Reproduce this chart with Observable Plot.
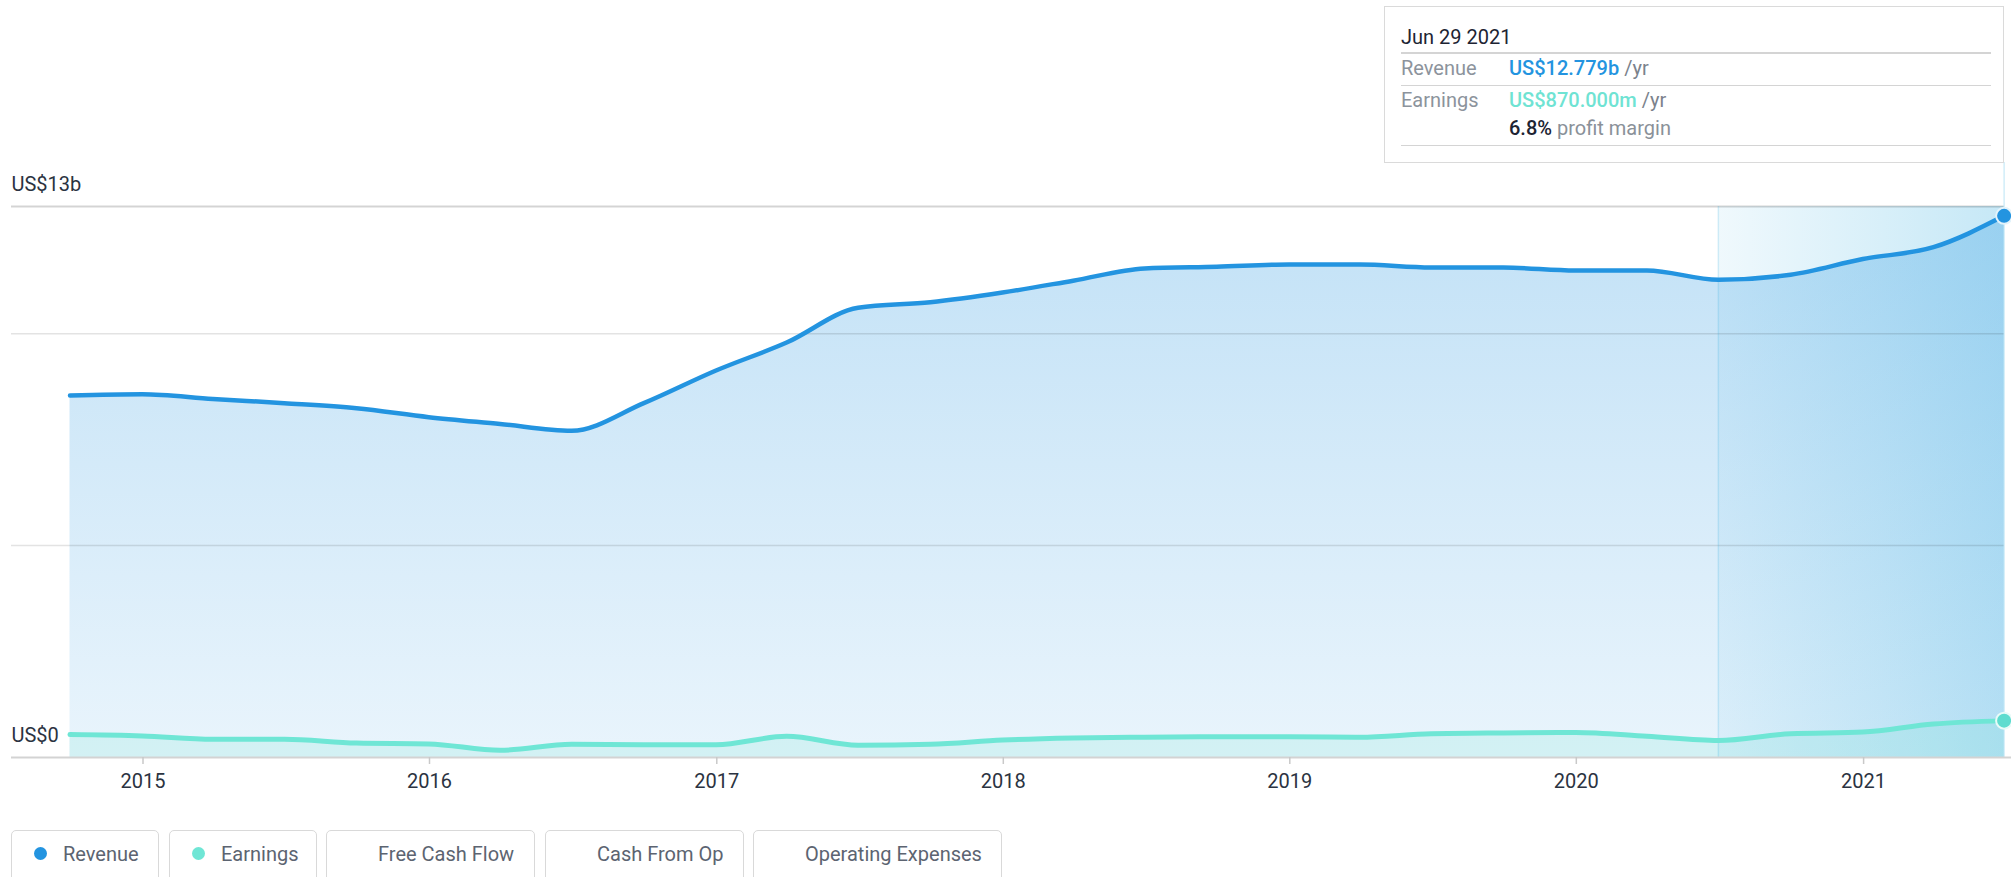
<!DOCTYPE html>
<html>
<head>
<meta charset="utf-8">
<script src="https://cdn.jsdelivr.net/npm/d3@7"></script>
<script src="https://cdn.jsdelivr.net/npm/@observablehq/plot@0.6"></script>
<style>
  html, body { margin: 0; padding: 0; background: #fff; }
  body { width: 2011px; height: 877px; position: relative; overflow: hidden; font-family: Roboto, "Noto Sans", sans-serif; }
  #chart { position: absolute; left: 0; top: 0; }
  #tip { position: absolute; left: 1384px; top: 6px; width: 620px; height: 157px; border: 1.5px solid #dadada; box-sizing: border-box; background: #fff; }
  .t { position: absolute; font-size: 20px; line-height: 20px; white-space: nowrap; }
  .sep { position: absolute; left: 1401px; width: 590px; height: 1.5px; background: #d4d4d4; }
  .btn { position: absolute; top: 830px; height: 70px; border: 1.5px solid #d9d9d9; border-radius: 5px; box-sizing: border-box; background: #fff; }
  .btn .dot { position: absolute; left: 22px; top: 16px; width: 13px; height: 13px; border-radius: 50%; }
  .btn .lbl { position: absolute; left: 51px; top: 13px; font-size: 20px; line-height: 20px; color: #5c6471; white-space: nowrap; }
</style>
</head>
<body>
<div id="chart"></div>

<div id="tip"></div>
<div class="t" style="left:1401px;top:26.5px;color:#1d2433">Jun 29 2021</div>
<div class="sep" style="top:52px"></div>
<div class="t" style="left:1401px;top:57.5px;color:#8c939c">Revenue</div>
<div class="t" style="left:1509px;top:57.5px;"><span style="color:#2394e0;font-weight:500">US$12.779b</span> <span style="color:#7b828c">/yr</span></div>
<div class="sep" style="top:84.5px"></div>
<div class="t" style="left:1401px;top:90px;color:#8c939c">Earnings</div>
<div class="t" style="left:1509px;top:90px;"><span style="color:#6fe3d3;font-weight:500">US$870.000m</span> <span style="color:#7b828c">/yr</span></div>
<div class="t" style="left:1509px;top:118px;"><span style="color:#1d2433;font-weight:500">6.8%</span> <span style="color:#8a9199">profit margin</span></div>
<div class="sep" style="top:144.5px"></div>

<div class="btn" style="left:11px;width:148px"><div class="dot" style="background:#2394e0"></div><div class="lbl">Revenue</div></div>
<div class="btn" style="left:169px;width:148px"><div class="dot" style="background:#6fe6d5"></div><div class="lbl">Earnings</div></div>
<div class="btn" style="left:326px;width:209px"><div class="lbl">Free Cash Flow</div></div>
<div class="btn" style="left:545px;width:199px"><div class="lbl">Cash From Op</div></div>
<div class="btn" style="left:753px;width:249px"><div class="lbl">Operating Expenses</div></div>

<script>
// ---- data (values in US$ billions) ----
const dates = ["2014-09-30","2014-12-31","2015-03-31","2015-06-30","2015-09-30","2015-12-31",
  "2016-03-31","2016-06-30","2016-09-30","2016-12-31","2017-03-31","2017-06-30","2017-09-30",
  "2017-12-31","2018-03-31","2018-06-30","2018-09-30","2018-12-31","2019-03-31","2019-06-30",
  "2019-09-30","2019-12-31","2020-03-31","2020-06-30","2020-09-30","2020-12-31","2021-03-31","2021-06-29"];
const revenue = [8.54,8.57,8.46,8.36,8.24,8.03,7.87,7.71,8.36,9.13,9.79,10.61,10.74,10.97,
  11.25,11.54,11.58,11.63,11.63,11.56,11.56,11.49,11.49,11.27,11.39,11.76,12.04,12.779];
const earnings = [0.54,0.51,0.43,0.43,0.34,0.32,0.17,0.31,0.30,0.30,0.50,0.29,0.31,0.41,
  0.46,0.48,0.49,0.49,0.48,0.56,0.58,0.59,0.50,0.40,0.56,0.60,0.79,0.87];
const yearTicks = [2015, 2016, 2017, 2018, 2019, 2020, 2021];
const yLabelTicks = [0, 13];
const gridTicks = [5, 10];
const highlightStart = "2020-06-30";

const parse = d3.utcParse("%Y-%m-%d");
const rev = dates.map((d, i) => ({date: parse(d), value: revenue[i]}));
const earn = dates.map((d, i) => ({date: parse(d), value: earnings[i]}));
const last = rev[rev.length - 1];
const lastE = earn[earn.length - 1];

const defs = () => {
  const g = d3.create("svg:defs");
  const a = g.append("linearGradient").attr("id", "revGrad")
    .attr("gradientUnits", "userSpaceOnUse").attr("x1", 0).attr("x2", 0).attr("y1", 206).attr("y2", 757);
  a.append("stop").attr("offset", 0).attr("stop-color", "#2394e0").attr("stop-opacity", 0.28);
  a.append("stop").attr("offset", 1).attr("stop-color", "#2394e0").attr("stop-opacity", 0.10);
  const h = g.append("linearGradient").attr("id", "hlGrad").attr("x1", 0).attr("x2", 1).attr("y1", 0).attr("y2", 0);
  h.append("stop").attr("offset", 0).attr("stop-color", "#40b2e2").attr("stop-opacity", 0.08);
  h.append("stop").attr("offset", 1).attr("stop-color", "#40b2e2").attr("stop-opacity", 0.30);
  return g.node();
};

const chart = Plot.plot({
  width: 2011,
  height: 800,
  marginTop: 206,
  marginBottom: 43,
  marginLeft: 69.5,
  marginRight: 7.4,
  style: {fontFamily: "Roboto, sans-serif", fontSize: "20px", color: "#2b3341", overflow: "visible"},
  x: {type: "utc", domain: [rev[0].date, last.date]},
  y: {domain: [0, 13]},
  marks: [
    defs,
    Plot.rect([{x1: parse(highlightStart), x2: last.date}], {x1: "x1", x2: "x2", y1: 0, y2: 13, fill: "url(#hlGrad)"}),
    Plot.areaY(rev, {x: "date", y: "value", fill: "url(#revGrad)", curve: "monotone-x"}),
    Plot.areaY(earn, {x: "date", y: "value", fill: "#6fe6d5", fillOpacity: 0.18, curve: "monotone-x"}),
    Plot.ruleY(gridTicks, {stroke: "#000", strokeOpacity: 0.11, strokeWidth: 1.5, insetLeft: -58.5}),
    Plot.ruleY([13], {stroke: "#000", strokeOpacity: 0.17, strokeWidth: 2, insetLeft: -58.5}),
    Plot.ruleX([parse(highlightStart)], {stroke: "#40b2e2", strokeOpacity: 0.2, strokeWidth: 1.5}),
    Plot.ruleX([last.date], {stroke: "#40b2e2", strokeOpacity: 0.3, strokeWidth: 1.2, insetTop: -44}),
    Plot.ruleY([0], {stroke: "#d3d3d3", strokeWidth: 2, insetLeft: -58.5, insetRight: -8}),
    Plot.lineY(earn, {x: "date", y: "value", stroke: "#6fe6d5", strokeWidth: 5, curve: "monotone-x"}),
    Plot.lineY(rev, {x: "date", y: "value", stroke: "#2394e0", strokeWidth: 4.5, curve: "monotone-x"}),
    Plot.dot([lastE], {x: "date", y: "value", r: 8, fill: "#5fdccf", stroke: "#e8fbf8", strokeWidth: 2}),
    Plot.dot([last], {x: "date", y: "value", r: 8, fill: "#2394e0", stroke: "#e3f3fb", strokeWidth: 2}),
    Plot.axisX(yearTicks.map(y => new Date(Date.UTC(y, 0, 1))), {
      tickFormat: d3.utcFormat("%Y"), tickSize: 7, tickPadding: 9, stroke: "#c9c9c9", strokeWidth: 1.5,
      fill: "#2b3341", fontSize: 20, label: null
    }),
    Plot.axisY(yLabelTicks, {
      tickSize: 0, tickPadding: 0, textAnchor: "start", dx: -58.5, dy: -21.5, fontSize: 20, fill: "#2b3341",
      tickFormat: d => d === 0 ? "US$0" : `US$${d}b`, label: null
    })
  ]
});
document.getElementById("chart").append(chart);
</script>
</body>
</html>
